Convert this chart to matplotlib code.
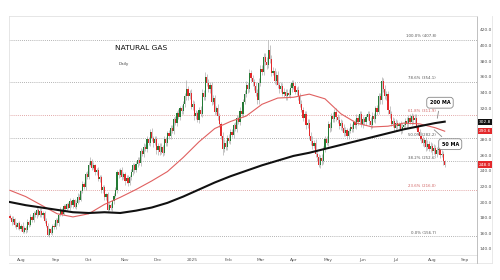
import numpy as np
import pandas as pd
import matplotlib
matplotlib.use("Agg")
import matplotlib.pyplot as plt
from matplotlib.lines import Line2D

# daily closes, 23 Jul 2024 .. 13 Aug 2025
closes = [
    180, 174, 178, 171, 168, 173, 166, 170, 162, 167,
    164, 175, 171, 181, 177, 186, 183, 190, 184, 189,
    183, 186, 176, 170, 158, 165, 161, 170, 168, 177,
    173, 184, 190, 185, 195, 191, 197, 193, 201, 196,
    202, 194, 199, 207, 203, 214, 223, 219, 236, 232,
    248, 252, 244, 247, 238, 241, 229, 232, 215, 219,
    206, 210, 190, 196, 193, 201, 208, 215, 238, 235,
    241, 232, 236, 227, 231, 225, 232, 238, 247, 241,
    249, 254, 250, 265, 262, 271, 268, 280, 276, 290,
    282, 276, 281, 266, 272, 264, 270, 263, 280, 276,
    288, 284, 295, 291, 306, 301, 314, 309, 320, 316,
    325, 335, 345, 336, 340, 322, 326, 310, 314, 305,
    318, 313, 340, 334, 360, 352, 345, 350, 328, 333,
    315, 320, 310, 300, 285, 268, 276, 270, 282, 278,
    290, 286, 298, 294, 307, 303, 317, 313, 328, 338,
    350, 345, 365, 358, 353, 348, 340, 330, 352, 370,
    366, 385, 379, 375, 395, 383, 365, 368, 355, 362,
    350, 345, 348, 338, 341, 335, 340, 337, 346, 352,
    348, 341, 343, 335, 325, 318, 308, 312, 298, 301,
    285, 278, 272, 275, 262, 258, 248, 256, 252, 268,
    280, 276, 300, 295, 310, 306, 315, 309, 305, 297,
    301, 295, 288, 292, 285, 291, 296, 293, 302, 299,
    308, 303, 312, 300, 306, 302, 309, 312, 304, 298,
    310, 306, 320, 315, 335, 330, 355, 345, 335, 338,
    318, 312, 300, 304, 295, 301, 297, 300, 292, 296,
    298, 304, 300, 307, 303, 310, 305, 308, 296, 290,
    284, 280, 275, 279, 270, 274, 268, 272, 265, 269,
    262, 266, 268, 260, 262, 252, 248,
]
first_open = 182

# upper / lower wick lengths above / below the body
wick_up = [
    3, 2, 4, 2, 3, 2, 3, 2, 4, 3,  2, 3, 2, 4, 3, 2, 3, 4, 2, 3,
    3, 2, 3, 4, 3, 2, 3, 2, 3, 2,  3, 2, 4, 2, 3, 3, 2, 3, 4, 2,
    3, 2, 3, 4, 3, 2, 4, 3, 3, 4,  3, 6, 3, 4, 2, 3, 4, 3, 2, 3,
    3, 2, 3, 4, 3, 2, 3, 4, 3, 4,  3, 4, 2, 3, 4, 3, 2, 4, 3, 3,
    4, 3, 3, 4, 3, 5, 3, 4, 3, 4,  5, 3, 4, 3, 4, 3, 5, 3, 4, 3,
    3, 4, 3, 4, 3, 4, 3, 5, 3, 4,  4, 5, 11, 4, 3, 5, 4, 3, 4, 3,
    4, 5, 4, 3, 6, 4, 5, 4, 3, 4,  4, 3, 5, 4, 3, 5, 4, 3, 4, 5,
    3, 4, 3, 5, 4, 3, 4, 5, 4, 5,  5, 4, 5, 4, 5, 4, 5, 4, 6, 5,
    5, 6, 5, 6, 12.8, 6, 5, 5, 4, 5,  5, 4, 5, 4, 5, 4, 5, 4, 5, 4,
    4, 5, 4, 5, 4, 5, 4, 5, 4, 5,  5, 4, 6, 4, 5, 3, 4, 4, 5, 4,
    4, 5, 4, 3, 4, 5, 4, 5, 4, 5,  5, 4, 5, 4, 3, 4, 5, 4, 3, 4,
    4, 3, 4, 5, 4, 3, 4, 5, 4, 5,  5, 4, 3, 4, 5, 4, 5, 4, 5, 4,
    4, 5, 4, 5, 4, 5, 4, 3, 4, 5,  5, 4, 5, 4, 5, 4, 3, 4, 5, 4,
    4, 5, 4, 3, 4, 5, 4, 5, 4, 5,  4, 5, 4, 5, 4, 3, 2,
]
wick_dn = [
    2, 3, 2, 3, 2, 3, 2, 3, 2, 2,  3, 2, 3, 2, 3, 2, 2, 3, 2, 3,
    2, 3, 3, 2, 1.3, 3, 2, 3, 2, 3,  2, 3, 2, 3, 2, 3, 3, 2, 3, 2,
    3, 2, 3, 2, 3, 2, 3, 2, 3, 2,  3, 2, 3, 2, 3, 3, 2, 3, 4, 3,
    3, 4, 3, 2, 3, 4, 3, 2, 3, 4,  3, 4, 3, 5, 3, 4, 3, 4, 3, 4,
    3, 4, 3, 4, 3, 4, 3, 4, 3, 4,  4, 5, 3, 4, 6, 4, 3, 4, 3, 4,
    4, 3, 4, 3, 4, 3, 4, 3, 4, 3,  4, 3, 4, 5, 4, 3, 4, 5, 4, 3,
    4, 3, 4, 3, 4, 3, 4, 5, 4, 3,  4, 3, 5, 4, 5, 8, 4, 3, 4, 3,
    4, 3, 4, 3, 4, 3, 4, 3, 4, 3,  4, 5, 4, 3, 4, 5, 4, 5, 4, 3,
    4, 3, 4, 5, 4, 5, 4, 3, 4, 5,  4, 5, 4, 3, 4, 5, 4, 3, 4, 5,
    4, 3, 4, 5, 4, 3, 4, 5, 4, 3,  4, 5, 4, 3, 4, 5, 3, 4, 5, 3,
    4, 3, 4, 5, 4, 3, 4, 5, 4, 3,  5, 4, 3, 4, 5, 4, 3, 4, 3, 4,
    5, 4, 3, 4, 5, 4, 3, 4, 5, 4,  3, 4, 5, 4, 3, 4, 5, 4, 3, 4,
    5, 4, 3, 4, 5, 4, 3, 4, 5, 4,  3, 4, 5, 4, 3, 4, 5, 4, 3, 4,
    5, 4, 3, 4, 5, 4, 3, 4, 5, 4,  3, 4, 5, 4, 3, 4, 3,
]

# moving averages, sampled every 10 sessions (last point = last session)
ma_idx = [0, 10, 20, 30, 40, 50, 60, 70, 80, 90, 100, 110, 120, 130, 140,
          150, 160, 170, 180, 190, 200, 210, 220, 230, 240, 250, 260, 270, 276]
ma50 = [215, 207, 196, 185, 181, 185, 197, 206, 216, 227, 239, 257, 277, 294, 303,
        310, 325, 333, 334, 338, 332, 313, 301, 296, 297, 301, 300, 295, 290.6]
ma200 = [200, 196, 193, 190, 187, 186, 187, 186, 189, 193, 199, 207, 216, 225, 233,
         240, 247, 253, 259, 263, 268, 273, 278, 283, 288, 293, 297, 301, 302.8]

fib_low, fib_high = 156.7, 407.8
fib_ratios = [0.0, 0.236, 0.382, 0.5, 0.618, 0.786, 1.0]
fib_red = [0.236, 0.618]

yticks = list(range(140, 421, 20))

n = len(closes)
dates = pd.bdate_range("2024-07-23", periods=n + 25)
closes = np.array(closes, dtype=float)
opens = np.r_[first_open, closes[:-1]]
highs = np.maximum(opens, closes) + np.array(wick_up)
lows = np.minimum(opens, closes) - np.array(wick_dn)
x = np.arange(n)

fig = plt.figure(figsize=(5, 2.8), dpi=100)
ax = fig.add_axes([9 / 500, 25 / 280, 468 / 500, 239 / 280])

up = closes >= opens
green, red = "#247a35", "#e3282b"
ax.vlines(x, lows, highs, color="#9a9a9a", lw=0.4, zorder=2)
body = np.maximum(np.abs(closes - opens), 0.6)
ax.bar(x[up], body[up], bottom=opens[up], width=0.75, color=green, lw=0, zorder=3)
ax.bar(x[~up], body[~up], bottom=closes[~up], width=0.75, color=red, lw=0, zorder=3)

ax.plot(ma_idx, ma50, color="#e06060", lw=0.8, zorder=4)
ax.plot(ma_idx, ma200, color="#111111", lw=1.5, zorder=4)

# fibonacci retracement
for r in fib_ratios:
    lvl = fib_low + r * (fib_high - fib_low)
    c = "#d98c8c" if r in fib_red else "#9a9a9a"
    tc = "#d06060" if r in fib_red else "#555555"
    ax.axhline(lvl, color=c, lw=0.6, ls=(0, (1, 1.5)), zorder=1)
    ax.text(270.5, lvl + 1.5, f"{r * 100:.1f}% ({lvl:.1f})", ha="right", va="bottom",
            fontsize=2.8, color=tc)

ax.text(0.283, 0.866, "NATURAL GAS", transform=ax.transAxes, ha="center", va="center",
        fontsize=5.4, color="#111111")
ax.text(0.235, 0.80, "Daily", transform=ax.transAxes, ha="left", va="center",
        fontsize=3, color="#444444")

box = dict(boxstyle="round,pad=0.6", fc="white", ec="#888888", lw=0.6)
ax.annotate("200 MA", xy=(271, 303.6), xytext=(273, 327), ha="center", va="center",
            fontsize=3.5, fontweight="bold", bbox=box,
            arrowprops=dict(arrowstyle="-", color="#888888", lw=0.6))
ax.annotate("50 MA", xy=(268, 294.7), xytext=(279.5, 274), ha="center", va="center",
            fontsize=3.5, fontweight="bold", bbox=box,
            arrowprops=dict(arrowstyle="-", color="#888888", lw=0.6))

# price tags on the right axis
tags = [(ma200[-1], "#111111"), (ma50[-1], red), (closes[-1], red)]
for val, col in tags:
    ax.text(1.004, val, f"{val:.1f}", transform=ax.get_yaxis_transform(), ha="left",
            va="center", fontsize=3.2, color="white",
            bbox=dict(boxstyle="square,pad=0.25", fc=col, ec="none"))

# axes
ax.set_xlim(-0.6, 296.5)
ax.set_ylim(132.3, 437.9)
ax.yaxis.tick_right()
ax.set_yticks(yticks)
ax.set_yticklabels([f"{v:.1f}" for v in yticks])
month_pos, month_lab = [], []
for i in range(1, len(dates)):
    if dates[i].month != dates[i - 1].month:
        month_pos.append(i)
        month_lab.append(str(dates[i].year) if dates[i].month == 1 else dates[i].strftime("%b"))
ax.set_xticks(month_pos)
ax.set_xticklabels(month_lab)
ax.tick_params(axis="both", length=0, labelsize=3.2, colors="#555555", pad=2)
for s in ["top", "left", "bottom"]:
    ax.spines[s].set_color("#e2e2e2")
    ax.spines[s].set_linewidth(0.6)
ax.spines["right"].set_color("#b5b5b5")
ax.spines["right"].set_linewidth(0.6)

fig.add_artist(Line2D([9 / 500, 492 / 500], [17 / 280, 17 / 280], color="#e5e5e5", lw=0.6))
fig.add_artist(Line2D([492 / 500, 492 / 500], [17 / 280, 264 / 280], color="#e5e5e5", lw=0.6))
fig.add_artist(Line2D([477 / 500, 477 / 500], [17 / 280, 25 / 280], color="#b5b5b5", lw=0.6))

fig.savefig("out.png", dpi=100, facecolor="white")
